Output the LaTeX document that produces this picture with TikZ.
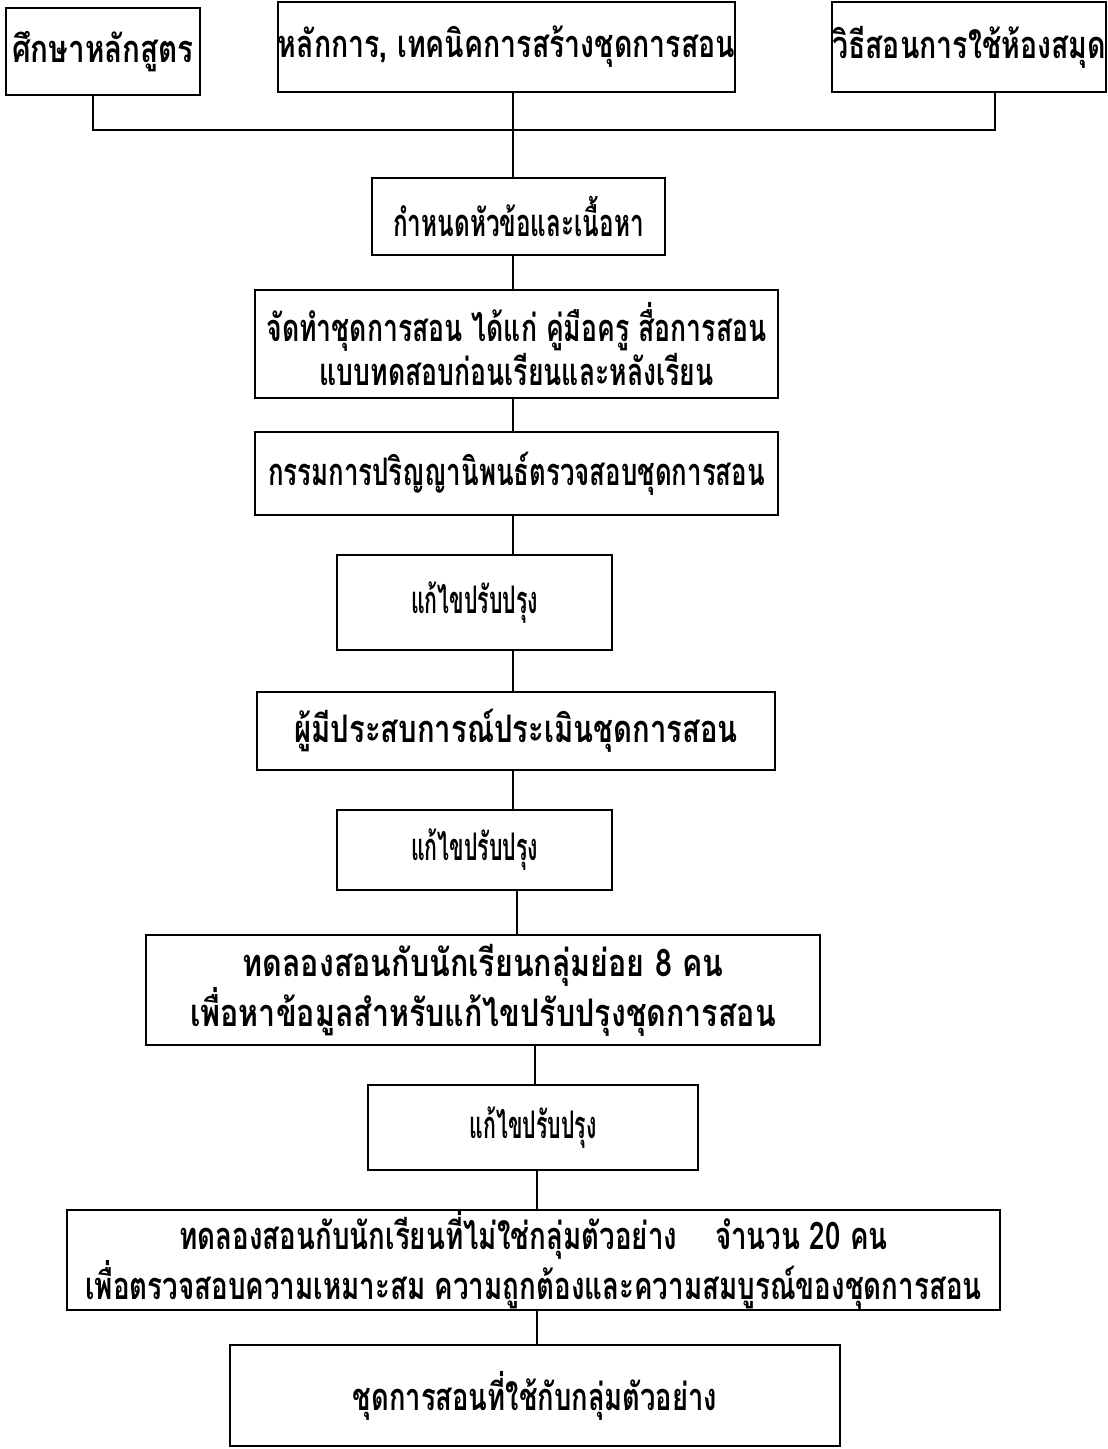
\documentclass[tikz,border=0pt]{standalone}
\usepackage{fontspec}
\newcommand\thf[1]{\fontspec[Script=Thai,FakeStretch=#1]{Loma}\bfseries\fontsize{38}{32}\selectfont}
\newcommand\mybox[7][0.75]{\node[box, font=\thf{#1}, minimum width={#5-#3}, minimum height={#6-#4}] (#2) at ({(#3+#5)/2},{(#4+#6)/2}) {#7};}
\begin{document}
\begin{tikzpicture}[x=1pt,y=-1pt,
  box/.style={draw, line width=2pt, inner sep=0pt, align=center},
  conn/.style={line width=2pt}]
\fill[white] (0,0) rectangle (1108,1449);
\useasboundingbox (0,0) rectangle (1108,1449);
\mybox[0.78]{b1}{6}{8}{200}{95}{ศึกษาหลักสูตร}
\mybox[0.75]{b2}{278}{2}{735}{92}{หลักการ, เทคนิคการสร้างชุดการสอน}
\mybox[0.75]{b3}{833}{2}{1105}{92}{วิธีสอนการใช้ห้องสมุด}
\mybox[0.64]{b4}{372}{178}{665}{255}{กำหนดหัวข้อและเนื้อหา}
\mybox[0.70]{b5}{255}{290}{778}{398}{จัดทำชุดการสอน ได้แก่ คู่มือครู สื่อการสอน\\แบบทดสอบก่อนเรียนและหลังเรียน}
\mybox[0.68]{b6}{255}{432}{778}{515}{กรรมการปริญญานิพนธ์ตรวจสอบชุดการสอน}
\mybox[0.56]{b7}{337}{555}{612}{650}{แก้ไขปรับปรุง}
\mybox[0.77]{b8}{257}{692}{775}{770}{ผู้มีประสบการณ์ประเมินชุดการสอน}
\mybox[0.56]{b9}{337}{810}{612}{890}{แก้ไขปรับปรุง}
\mybox[0.8]{b10}{146}{935}{820}{1045}{ทดลองสอนกับนักเรียนกลุ่มย่อย 8 คน\\เพื่อหาข้อมูลสำหรับแก้ไขปรับปรุงชุดการสอน}
\mybox[0.56]{b11}{368}{1085}{698}{1170}{แก้ไขปรับปรุง}
\mybox[0.73]{b12}{67}{1210}{1000}{1310}{ทดลองสอนกับนักเรียนที่ไม่ใช่กลุ่มตัวอย่าง\quad จำนวน 20 คน\\เพื่อตรวจสอบความเหมาะสม ความถูกต้องและความสมบูรณ์ของชุดการสอน}
\mybox[0.72]{b13}{230}{1345}{840}{1446}{ชุดการสอนที่ใช้กับกลุ่มตัวอย่าง}
\coordinate (busL) at (93,130);
\coordinate (busR) at (995,130);
\coordinate (m) at (513,0);
\coordinate (m2) at (517,0);
\coordinate (m3) at (535,0);
\coordinate (m4) at (537,0);
\draw[conn] (b1.south -| busL) -- (busL) -- (busR) -- (b3.south -| busR);
\draw[conn] (b2.south -| m) -- (b4.north -| m);
\draw[conn] (b4.south -| m) -- (b5.north -| m);
\draw[conn] (b5.south -| m) -- (b6.north -| m);
\draw[conn] (b6.south -| m) -- (b7.north -| m);
\draw[conn] (b7.south -| m) -- (b8.north -| m);
\draw[conn] (b8.south -| m) -- (b9.north -| m);
\draw[conn] (b9.south -| m2) -- (b10.north -| m2);
\draw[conn] (b10.south -| m3) -- (b11.north -| m3);
\draw[conn] (b11.south -| m4) -- (b12.north -| m4);
\draw[conn] (b12.south -| m4) -- (b13.north -| m4);
\end{tikzpicture}
\end{document}
